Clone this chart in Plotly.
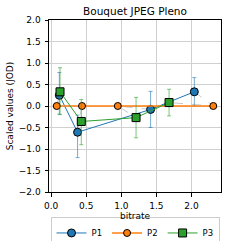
import plotly.graph_objects as go

title = "Bouquet JPEG Pleno"
series_names = ["P1", "P2", "P3"]

p1_x = [0.117, 0.377, 1.417, 2.04]
p1_y = [0.25, -0.61, -0.08, 0.33]
p1_err_plus = [0.53, 0.40, 0.42, 0.33]
p1_err_minus = [0.44, 0.59, 0.42, 0.33]

p2_x = [0.08, 0.44, 0.95, 2.31]
p2_y = [0.0, 0.0, 0.0, 0.0]
p2_err_plus = [0.0, 0.0, 0.0, 0.0]
p2_err_minus = [0.0, 0.0, 0.0, 0.0]

p3_x = [0.127, 0.43, 1.21, 1.68]
p3_y = [0.33, -0.36, -0.27, 0.08]
p3_err_plus = [0.56, 0.51, 0.47, 0.31]
p3_err_minus = [0.53, 0.54, 0.47, 0.31]

y_ticks = [-2.0, -1.5, -1.0, -0.5, 0.0, 0.5, 1.0, 1.5, 2.0]
x_ticks = [0.0, 0.5, 1.0, 1.5, 2.0]

colors = ["#1f77b4", "#ff7f0e", "#2ca02c"]
err_colors = ["rgba(31,119,180,0.6)", "rgba(255,127,14,0.6)", "rgba(44,160,44,0.6)"]
symbols = ["circle", "circle", "square"]
msizes = [8, 7, 8]

def fmt(v):
    s = f"{abs(v):.1f}"
    return ("\u2212" + s) if v < 0 else s

fig = go.Figure()

# gray dashed connectors across series at the same rate index
gx, gy = [], []
for i in range(len(p1_x)):
    gx += [p1_x[i], p2_x[i], p3_x[i], None]
    gy += [p1_y[i], p2_y[i], p3_y[i], None]
fig.add_trace(go.Scatter(x=gx, y=gy, mode="lines", showlegend=False,
                         line=dict(color="#c8c8c8", width=1, dash="dash"),
                         hoverinfo="skip"))

data = [(p1_x, p1_y, p1_err_plus, p1_err_minus),
        (p2_x, p2_y, p2_err_plus, p2_err_minus),
        (p3_x, p3_y, p3_err_plus, p3_err_minus)]

for k, (xs, ys, ep, em) in enumerate(data):
    fig.add_trace(go.Scatter(
        x=xs, y=ys, name=series_names[k], mode="lines+markers",
        line=dict(color=colors[k], width=1.5 if k == 1 else 1),
        marker=dict(symbol=symbols[k], size=msizes[k], color=colors[k],
                    line=dict(color="black", width=1)),
        error_y=dict(type="data", symmetric=False, array=ep, arrayminus=em,
                     color=err_colors[k], thickness=1, width=2,
                     visible=(k != 1)),
    ))

axis_common = dict(showline=True, linecolor="black", linewidth=1, mirror=True,
                   ticks="outside", ticklen=3.5, tickcolor="black",
                   showgrid=True, gridcolor="#d0d0d0", gridwidth=1,
                   zeroline=False, tickfont=dict(size=9, color="black"),
                   ticklabelstandoff=2, automargin=False)

fig.update_layout(
    width=241, height=241,
    margin=dict(l=49, r=20, t=20, b=49, autoexpand=False),
    paper_bgcolor="white", plot_bgcolor="white",
    font=dict(family="DejaVu Sans", size=9, color="black"),
    title=dict(text=title, x=(49 + 221) / 2 / 241, xanchor="center",
               y=1 - 11 / 241, yanchor="middle", font=dict(size=10.5)),
    xaxis=dict(range=[-0.03, 2.42], tickvals=x_ticks,
               ticktext=[fmt(v) for v in x_ticks],
               title=dict(text="bitrate", standoff=0, font=dict(size=9)),
               **axis_common),
    yaxis=dict(range=[-2.0, 2.0], tickvals=y_ticks,
               ticktext=[fmt(v) for v in y_ticks],
               title=dict(text="Scaled values (JOD)", standoff=3, font=dict(size=9)),
               **axis_common),
    legend=dict(orientation="h", x=0.5, xanchor="center", y=-0.148, yanchor="top",
                bordercolor="#cccccc", borderwidth=1, font=dict(size=8.5),
                itemwidth=30, tracegroupgap=0),
    showlegend=True,
)

fig.write_html("out.html", config={"displayModeBar": False},
               post_script="document.body.style.margin='0';")
